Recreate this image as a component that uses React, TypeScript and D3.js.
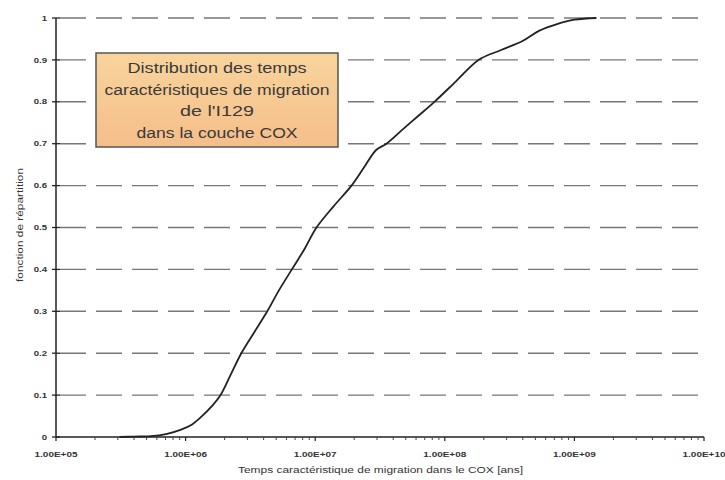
import React from "react";
import * as d3 from "d3";

// Data: cumulative distribution (log10 of time in years, cumulative fraction)
const logTimes = [5.49, 5.6, 5.73, 5.85, 5.96, 6.05, 6.11, 6.21, 6.27, 6.35, 6.43, 6.53, 6.63, 6.72, 6.82, 6.92, 7.01, 7.14, 7.28, 7.38, 7.47, 7.55, 7.66, 7.79, 7.92, 8.09, 8.26, 8.43, 8.6, 8.73, 8.86, 9.0, 9.17];
const cumFraction = [0, 0.001, 0.002, 0.007, 0.017, 0.03, 0.045, 0.076, 0.1, 0.15, 0.2, 0.25, 0.3, 0.35, 0.4, 0.45, 0.5, 0.55, 0.6, 0.645, 0.685, 0.7, 0.73, 0.765, 0.8, 0.85, 0.9, 0.923, 0.945, 0.97, 0.985, 0.996, 1.0];

const xTickLabels = ["1.00E+05", "1.00E+06", "1.00E+07", "1.00E+08", "1.00E+09", "1.00E+10"];
const yTickLabels = ["0", "0.1", "0.2", "0.3", "0.4", "0.5", "0.6", "0.7", "0.8", "0.9", "1"];
const boxLines = ["Distribution des temps", "caractéristiques de migration", "de l'I129", "dans la couche COX"];
const boxLineWidths = [179, 225, 74, 161];
const xTitle = "Temps caractéristique de migration dans le COX [ans]";
const yTitle = "fonction de répartition";

const W = 725;
const H = 480;
const left = 56;
const right = 704;
const top = 18;
const bottom = 437;
const SX = 1.28;

export default function App() {
  const x = d3.scaleLog().domain([1e5, 1e10]).range([left, right]);
  const y = d3.scaleLinear().domain([0, 1]).range([bottom, top]);
  const yTicks = yTickLabels.map((t) => +t);
  const xMajor = xTickLabels.map((t) => +t);
  const xMinor: number[] = [];
  for (let e = 5; e < 10; e++) for (let m = 2; m <= 9; m++) xMinor.push(m * Math.pow(10, e));

  const pts: [number, number][] = logTimes.map((l, i) => [Math.pow(10, l), cumFraction[i]]);
  const line = d3
    .line<[number, number]>()
    .x((d) => x(d[0]))
    .y((d) => y(d[1]))
    .curve(d3.curveCatmullRom.alpha(0.5));

  const font = "'Liberation Sans', Arial, sans-serif";

  return (
    <svg width={W} height={H} style={{ position: "absolute", left: 0, top: 0, background: "#fff" }} fontFamily={font}>
      <defs>
        <linearGradient id="boxg" x1="0" y1="0" x2="0" y2="1">
          <stop offset="0" stopColor="#F8D49C" />
          <stop offset="1" stopColor="#F5BE8A" />
        </linearGradient>
      </defs>
      <rect x={0} y={0} width={W} height={H} fill="#fff" />
      {/* gridlines */}
      {yTicks.filter((t) => t > 0).map((t) => (
        <line key={"g" + t} x1={left + 4} x2={right} y1={y(t)} y2={y(t)} stroke="#777" strokeWidth={1.4} strokeDasharray="26 10" />
      ))}
      {/* y axis */}
      <line x1={left} x2={left} y1={top} y2={bottom} stroke="#222" strokeWidth={1.5} />
      {yTicks.map((t, i) => (
        <g key={"y" + t}>
          <line x1={left - 4} x2={left + 4} y1={y(t)} y2={y(t)} stroke="#222" strokeWidth={1.3} />
          <text transform={`translate(${left - 9},${y(t)}) scale(${SX},1)`} dy="0.35em" textAnchor="end" fontSize={7.5} fontWeight="bold" fill="#333">
            {yTickLabels[i]}
          </text>
        </g>
      ))}
      {/* x axis */}
      <line x1={left} x2={right} y1={bottom} y2={bottom} stroke="#222" strokeWidth={1.5} />
      {xMinor.map((v) => (
        <line key={"m" + v} x1={x(v)} x2={x(v)} y1={bottom} y2={bottom + 3} stroke="#444" strokeWidth={1} />
      ))}
      {xMajor.map((v, i) => (
        <g key={"x" + v}>
          <line x1={x(v)} x2={x(v)} y1={bottom} y2={bottom + 4} stroke="#222" strokeWidth={1.2} />
          <text transform={`translate(${x(v)},${bottom + 20}) scale(${SX},1)`} textAnchor="middle" fontSize={7.8} fontWeight="bold" fill="#333">
            {xTickLabels[i]}
          </text>
        </g>
      ))}
      {/* titles */}
      <text x={238} y={473} fontSize={8.5} fill="#333" textLength={285} lengthAdjust="spacingAndGlyphs">
        {xTitle}
      </text>
      <text transform={`translate(23,282) rotate(-90)`} fontSize={8.5} fill="#333" textLength={114} lengthAdjust="spacingAndGlyphs">
        {yTitle}
      </text>
      {/* curve */}
      <path d={line(pts) || ""} fill="none" stroke="#222" strokeWidth={1.8} />
      {/* annotation box */}
      <rect x={96} y={53} width={242} height={94} fill="url(#boxg)" stroke="#555" strokeWidth={1.5} />
      {boxLines.map((s, i) => (
        <text key={s} x={217 - boxLineWidths[i] / 2} y={73 + i * 21.5} fontSize={14} fill="#3a3a3a" textLength={boxLineWidths[i]} lengthAdjust="spacingAndGlyphs">
          {s}
        </text>
      ))}
    </svg>
  );
}
